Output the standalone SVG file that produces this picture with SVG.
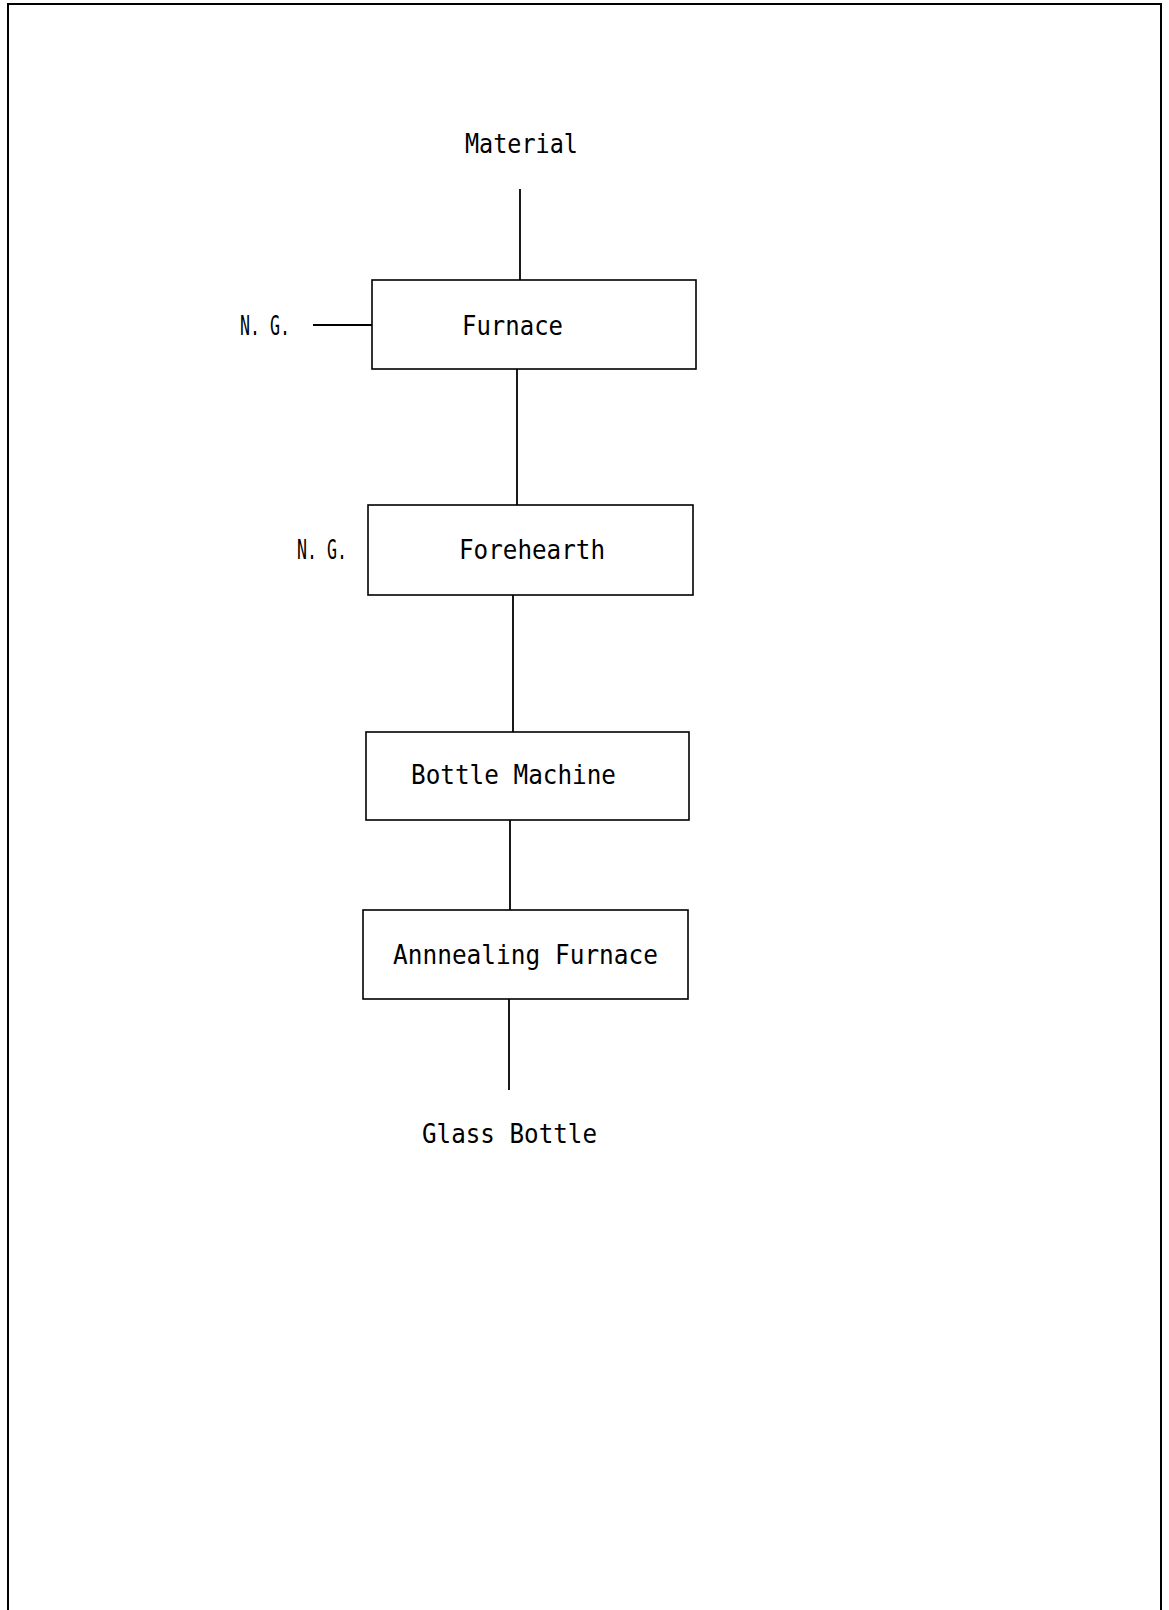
<svg xmlns="http://www.w3.org/2000/svg" width="1169" height="1610" viewBox="0 0 1169 1610">
<style>
.box{fill:#fff;stroke:#000;stroke-width:1.6}
.ln{stroke:#000;stroke-width:1.8;fill:none}
text{font-family:"DejaVu Sans Mono","Liberation Mono",monospace;font-size:27px;fill:#000}
</style>
<rect x="0" y="0" width="1169" height="1610" fill="#fff"/>
<rect x="8" y="4" width="1153" height="1610" fill="none" stroke="#000" stroke-width="2"/>
<g id="connectors">
<line class="ln" x1="520" y1="189" x2="520" y2="280"/>
<line class="ln" x1="313" y1="325" x2="372" y2="325"/>
<line class="ln" x1="517" y1="369" x2="517" y2="505"/>
<line class="ln" x1="513" y1="595" x2="513" y2="732"/>
<line class="ln" x1="510" y1="820" x2="510" y2="910"/>
<line class="ln" x1="509" y1="999" x2="509" y2="1090"/>
</g>
<g id="material"><text x="465" y="153" textLength="113" lengthAdjust="spacingAndGlyphs">Material</text></g>
<g id="ng1"><text x="240" y="335" textLength="50" lengthAdjust="spacingAndGlyphs">N. G.</text></g>
<g id="furnace"><rect class="box" x="372" y="280" width="324" height="89"/><text x="462" y="335" textLength="101" lengthAdjust="spacingAndGlyphs">Furnace</text></g>
<g id="ng2"><text x="297" y="559" textLength="50" lengthAdjust="spacingAndGlyphs">N. G.</text></g>
<g id="forehearth"><rect class="box" x="368" y="505" width="325" height="90"/><text x="459" y="559" textLength="146" lengthAdjust="spacingAndGlyphs">Forehearth</text></g>
<g id="bottle-machine"><rect class="box" x="366" y="732" width="323" height="88"/><text x="411" y="784" textLength="205" lengthAdjust="spacingAndGlyphs">Bottle Machine</text></g>
<g id="annealing-furnace"><rect class="box" x="363" y="910" width="325" height="89"/><text x="393" y="964" textLength="265" lengthAdjust="spacingAndGlyphs">Annnealing Furnace</text></g>
<g id="glass-bottle"><text x="422" y="1143" textLength="175" lengthAdjust="spacingAndGlyphs">Glass Bottle</text></g>
</svg>
